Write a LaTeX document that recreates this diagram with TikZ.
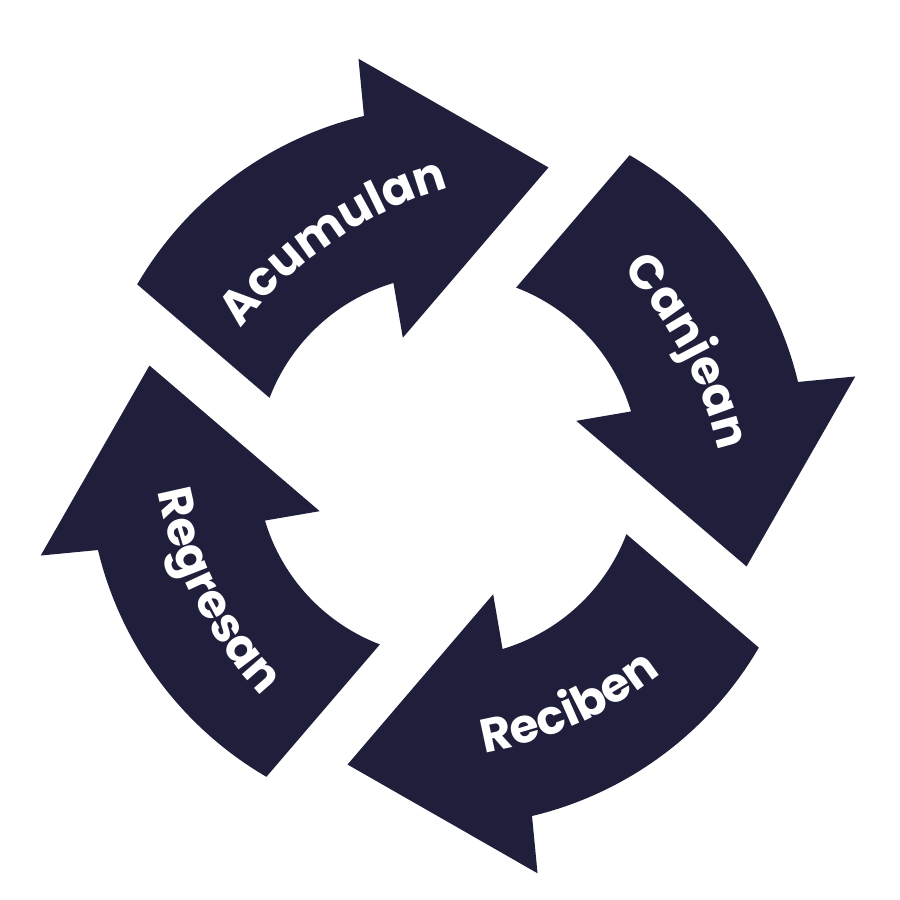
\documentclass[tikz,border=0pt]{standalone}
\usepackage{fontspec}
\setmainfont{Poppins}
\usetikzlibrary{decorations.text}
\definecolor{navy}{HTML}{1F1F3B}
\newcommand\lblfont{\color{white}\bfseries\fontsize{13.5}{13.5}\selectfont}

\begin{document}
\begin{tikzpicture}[
blade/.style={
  fill=navy,
  draw=none
  },
lbl/.style={
  decorate,
  decoration={
    text along path,
    text align=center,
    text={|\lblfont|#1}
    }
  }
]
\useasboundingbox (0,0) rectangle (9,9);
\coordinate (ctr) at (4.48,4.34);
% four arrows, each turned by a quarter
\foreach \rot in {0,-90,-180,-270}
  \fill[blade, shift={(ctr)}, rotate=\rot]
    (149.7:3.6) arc[start angle=149.7, end angle=103.5, radius=3.6]
    -- (102.4:4.17) -- (71.4:3.15) -- (109.4:1.36) -- (106.6:1.91)
    arc[start angle=106.6, end angle=159.1, radius=1.91] -- cycle;
% labels, on flatter arcs than the ring
\path[lbl=Acumulan, shift={(ctr)}, shift={(117:2.52)}, shift={(124:-4)}] (154:4) arc[start angle=154, end angle=94, radius=4];
\path[lbl=Canjean, shift={(ctr)}, shift={(25.5:2.6)}, shift={(28:-4)}] (58:4) arc[start angle=58, end angle=-2, radius=4];
\path[lbl=Reciben, shift={(ctr)}, shift={(-63.3:2.89)}, shift={(-66:-4)}] (-96:4) arc[start angle=-96, end angle=-36, radius=4];
\path[lbl=Regresan, shift={(ctr)}, shift={(208.2:2.87)}, shift={(207:-4)}] (177:4) arc[start angle=177, end angle=237, radius=4];
\end{tikzpicture}
\end{document}
